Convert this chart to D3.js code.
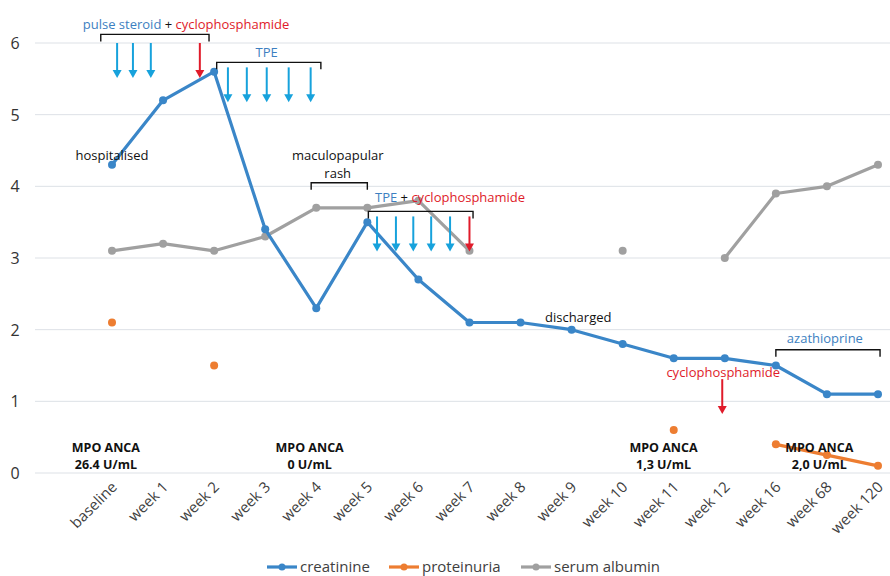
<!DOCTYPE html>
<html>
<head>
<meta charset="utf-8">
<script src="https://cdn.jsdelivr.net/npm/d3@7"></script>
<style>
  body { margin: 0; background: #fff; }
  svg { display: block; }
  text { font-family: "Open Sans", "DejaVu Sans", sans-serif; }
</style>
</head>
<body>
<div id="chart"></div>
<script>
// categories and series
const categories = ["baseline", "week 1", "week 2", "week 3", "week 4", "week 5", "week 6", "week 7",
    "week 8", "week 9", "week 10", "week 11", "week 12", "week 16", "week 68", "week 120"];
const creatinine = [4.3, 5.2, 5.6, 3.4, 2.3, 3.5, 2.7, 2.1, 2.1, 2.0, 1.8, 1.6, 1.6, 1.5, 1.1, 1.1];
const proteinuria = [2.1, null, 1.5, null, null, null, null, null, null, null, null, 0.6, null, 0.4, 0.25, 0.1];
const albumin = [3.1, 3.2, 3.1, 3.3, 3.7, 3.7, 3.8, 3.1, null, null, 3.1, null, 3.0, 3.9, 4.0, 4.3];
const yTicks = [0, 1, 2, 3, 4, 5, 6];

// treatment brackets / arrows in category units (i) and value units (v)
const brackets = [
    {from: -0.22, to: 1.9, v: 6.12},
    {from: 2.05, to: 4.09, v: 5.73},
    {from: 3.9, to: 5.0, v: 4.05},
    {from: 5.02, to: 7.07, v: 3.65},
    {from: 13.0, to: 15.04, v: 1.72}
];
const blueArrows = [0.1, 0.41, 0.76, 2.27, 2.64, 3.03, 3.46, 3.89, 5.19, 5.56, 5.9, 6.25, 6.62];
const redArrows = [1.72, 7.0];
const arrowTop = [6.0, 6.0, 6.0, 5.66, 5.66, 5.66, 5.66, 5.66, 3.58, 3.58, 3.58, 3.58, 3.58];
const redArrowTop = [6.0, 3.58];
const mpoLabels = [
    {i: -0.12, value: "26.4 U/mL"},
    {i: 3.87, value: "0 U/mL"},
    {i: 10.8, value: "1,3 U/mL"},
    {i: 13.85, value: "2,0 U/mL"}
];

const colors = {creatinine: "#3a86c8", proteinuria: "#ed7d31", albumin: "#a0a0a0",
    arrow: "#17a2dc", red: "#e01b2a", blueText: "#3d7fc1"};

const width = 890, height = 576;

const svg = d3.select("#chart").append("svg")
    .attr("width", width)
    .attr("height", height);

const x = d3.scalePoint().domain(categories).range([112, 878]);
const xi = i => x(categories[0]) + i * x.step();
const y = d3.scaleLinear().domain([0, 6]).range([473, 43]);

// gridlines
svg.append("g")
    .selectAll("line")
    .data(yTicks)
    .enter().append("line")
    .attr("x1", 35).attr("x2", width)
    .attr("y1", d => y(d)).attr("y2", d => y(d))
    .attr("stroke", "#dde1e6")
    .attr("stroke-width", 1);

// y tick labels
svg.append("g")
    .selectAll("text")
    .data(yTicks)
    .enter().append("text")
    .attr("x", 15)
    .attr("y", d => y(d) + 6)
    .attr("text-anchor", "middle")
    .style("font-size", "16px")
    .attr("fill", "#333")
    .text(d => d);

// x labels
svg.append("g")
    .selectAll("text")
    .data(categories)
    .enter().append("text")
    .attr("text-anchor", "end")
    .attr("transform", d => "translate(" + (x(d) + 6) + ",488) rotate(-45)")
    .style("font-size", "15px")
    .attr("fill", "#404040")
    .text(d => d);

// series
function drawSeries(values, color) {
    const pts = values.map((v, i) => ({v: v, c: categories[i]}));
    const line = d3.line()
        .defined(d => d.v !== null)
        .x(d => x(d.c))
        .y(d => y(d.v));
    svg.append("path")
        .datum(pts)
        .attr("d", line)
        .attr("fill", "none")
        .attr("stroke", color)
        .attr("stroke-width", 3.2)
        .attr("stroke-linejoin", "round");
    svg.append("g")
        .selectAll("circle")
        .data(pts.filter(d => d.v !== null))
        .enter().append("circle")
        .attr("cx", d => x(d.c))
        .attr("cy", d => y(d.v))
        .attr("r", 4)
        .attr("fill", color);
}
drawSeries(albumin, colors.albumin);
drawSeries(creatinine, colors.creatinine);
drawSeries(proteinuria, colors.proteinuria);

// brackets
svg.append("g")
    .selectAll("path")
    .data(brackets)
    .enter().append("path")
    .attr("d", d => {
        let x0 = xi(d.from), x1 = xi(d.to), yy = y(d.v);
        return "M" + x0 + "," + (yy + 7) + "V" + yy + "H" + x1 + "V" + (yy + 7);
    })
    .attr("fill", "none")
    .attr("stroke", "#111")
    .attr("stroke-width", 1.4);

// arrows
function arrow(i, top, color) {
    let xx = xi(i), y0 = y(top), y1 = y0 + 35;
    svg.append("line")
        .attr("x1", xx).attr("x2", xx)
        .attr("y1", y0).attr("y2", y1 - 7)
        .attr("stroke", color)
        .attr("stroke-width", 2);
    svg.append("path")
        .attr("d", "M" + (xx - 4.5) + "," + (y1 - 8) + "L" + (xx + 4.5) + "," + (y1 - 8) + "L" + xx + "," + y1 + "Z")
        .attr("fill", color);
}
blueArrows.forEach((d, k) => arrow(d, arrowTop[k], colors.arrow));
redArrows.forEach((d, k) => arrow(d, redArrowTop[k], colors.red));

// red arrow for the late cyclophosphamide
arrow(11.95, 1.31, colors.red);

// annotations
function label(xx, yy, parts, opts) {
    let t = svg.append("text")
        .attr("x", xx).attr("y", yy)
        .attr("text-anchor", (opts && opts.anchor) || "middle")
        .style("font-size", ((opts && opts.size) || 13) + "px");
    parts.forEach(p => {
        t.append("tspan").attr("fill", p[1]).text(p[0]);
    });
    return t;
}
label(xi(1.45), 29, [["pulse steroid", colors.blueText], [" + ", "#111"], ["cyclophosphamide", colors.red]]);
label(xi(3.03), 57, [["TPE", colors.blueText]]);
label(xi(0.0), 160, [["hospitalised", "#111"]]);
label(xi(4.42), 160, [["maculopapular", "#111"]]);
label(xi(4.42), 178, [["rash", "#111"]]);
label(xi(5.15), 202, [["TPE", colors.blueText], [" + ", "#111"], ["cyclophosphamide", colors.red]], {anchor: "start"});
label(xi(9.13), 322, [["discharged", "#111"]]);
label(xi(11.97), 377, [["cyclophosphamide", colors.red]]);
label(xi(13.96), 343, [["azathioprine", colors.blueText]]);

// MPO ANCA labels
const mpo = svg.append("g")
    .selectAll("g")
    .data(mpoLabels)
    .enter().append("g");
mpo.append("text")
    .attr("x", d => xi(d.i)).attr("y", 452)
    .attr("text-anchor", "middle")
    .style("font-size", "12.5px").style("font-weight", "bold")
    .attr("fill", "#111")
    .text("MPO ANCA");
mpo.append("text")
    .attr("x", d => xi(d.i)).attr("y", 469)
    .attr("text-anchor", "middle")
    .style("font-size", "12.5px").style("font-weight", "bold")
    .attr("fill", "#111")
    .text(d => d.value);

// legend
const legendItems = [
    {name: "creatinine", color: colors.creatinine, x: 267},
    {name: "proteinuria", color: colors.proteinuria, x: 389},
    {name: "serum albumin", color: colors.albumin, x: 521}
];
const lg = svg.append("g")
    .selectAll("g")
    .data(legendItems)
    .enter().append("g")
    .attr("transform", d => "translate(" + d.x + ",567)");
lg.append("line")
    .attr("x1", 0).attr("x2", 30)
    .attr("stroke", d => d.color)
    .attr("stroke-width", 3.2);
lg.append("circle")
    .attr("cx", 15).attr("r", 3.5)
    .attr("fill", d => d.color);
lg.append("text")
    .attr("x", 33).attr("y", 5)
    .style("font-size", "15px")
    .attr("fill", "#404040")
    .text(d => d.name);
</script>
</body>
</html>
